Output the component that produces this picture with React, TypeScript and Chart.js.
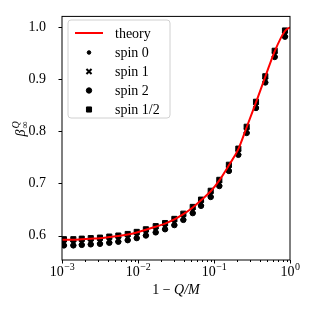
import React, { useEffect, useRef } from "react";
import { Chart, registerables } from "chart.js";

Chart.register(...registerables);

// sample positions (1 - Q/M)
const xValues = [
  0.00106, 0.00141, 0.00182, 0.00239, 0.00316, 0.00419, 0.00551, 0.00732, 0.00962,
  0.0127, 0.0171, 0.0227, 0.0301, 0.0395, 0.0525, 0.0675, 0.0905, 0.1175, 0.157,
  0.209, 0.269, 0.357, 0.473, 0.629, 0.859,
];

const theoryX = [
  0.001, 0.00106, 0.00141, 0.00182, 0.00239, 0.00316, 0.00419, 0.00551, 0.00732, 0.00962,
  0.0127, 0.0171, 0.0227, 0.0301, 0.0395, 0.0525, 0.0675, 0.0905, 0.1175, 0.157,
  0.209, 0.269, 0.357, 0.473, 0.629, 0.859, 1.0,
];
const theoryY = [
  0.592, 0.592, 0.592, 0.593, 0.594, 0.595, 0.597, 0.599, 0.602, 0.606,
  0.611, 0.617, 0.623, 0.631, 0.641, 0.654, 0.668, 0.685, 0.706, 0.735,
  0.766, 0.808, 0.856, 0.905, 0.954, 0.993, 1.0,
];

const spinHalf = [
  0.593, 0.593, 0.594, 0.595, 0.596, 0.598, 0.600, 0.603, 0.607, 0.612, 0.618, 0.624,
  0.632, 0.642, 0.655, 0.669, 0.686, 0.707, 0.736, 0.767, 0.809, 0.857, 0.906, 0.955, 0.994,
];
const spin0 = [
  0.589, 0.589, 0.590, 0.591, 0.592, 0.594, 0.596, 0.599, 0.603, 0.608, 0.614, 0.620,
  0.628, 0.638, 0.651, 0.665, 0.682, 0.703, 0.732, 0.763, 0.805, 0.853, 0.902, 0.951, 0.990,
];
const spin1 = [
  0.585, 0.585, 0.586, 0.587, 0.588, 0.590, 0.592, 0.595, 0.599, 0.604, 0.610, 0.616,
  0.624, 0.634, 0.647, 0.661, 0.678, 0.699, 0.728, 0.759, 0.801, 0.849, 0.898, 0.947, 0.986,
];
const spin2 = [
  0.581, 0.581, 0.582, 0.583, 0.584, 0.586, 0.588, 0.591, 0.595, 0.600, 0.606, 0.612,
  0.620, 0.630, 0.643, 0.657, 0.674, 0.695, 0.724, 0.755, 0.797, 0.845, 0.894, 0.943, 0.982,
];

const yTicks = [0.6, 0.7, 0.8, 0.9, 1.0];
const xTicks = [0.001, 0.01, 0.1, 1];
const xTickExp = ["\u22123", "\u22122", "\u22121", "0"];
const legendLabels = ["theory", "spin 0", "spin 1", "spin 2", "spin 1/2"];

const FONT = '"Liberation Serif", "Times New Roman", serif';

type MarkerSpec = { style: string; radius: number; border: number };
const markers: MarkerSpec[] = [
  { style: "circle", radius: 1.8, border: 1 }, // spin 0
  { style: "crossRot", radius: 3.6, border: 2 }, // spin 1
  { style: "circle", radius: 2.7, border: 1 }, // spin 2
  { style: "rect", radius: 3.6, border: 1 }, // spin 1/2
];

const decorPlugin = {
  id: "decor",
  afterDraw(chart: any) {
    const ctx: CanvasRenderingContext2D = chart.ctx;
    const { left, right, top, bottom } = chart.chartArea;
    const xs = chart.scales.x;
    const ys = chart.scales.y;
    ctx.save();

    // frame
    ctx.strokeStyle = "#000";
    ctx.lineWidth = 1;
    ctx.strokeRect(left, top, right - left, bottom - top);

    // y ticks
    ctx.beginPath();
    for (const v of yTicks) {
      const p = Math.round(ys.getPixelForValue(v)) + 0.5;
      ctx.moveTo(left - 3.5, p);
      ctx.lineTo(left, p);
    }
    // x ticks, major and minor
    for (let e = -3; e <= 0; e++) {
      for (let m = 1; m <= 9; m++) {
        const v = m * Math.pow(10, e);
        if (v > 1.0000001) break;
        const p = Math.round(xs.getPixelForValue(v)) + 0.5;
        const len = m === 1 ? 3.5 : 2;
        ctx.moveTo(p, bottom);
        ctx.lineTo(p, bottom + len);
      }
    }
    ctx.stroke();

    // x tick labels: 10^k
    ctx.fillStyle = "#000";
    ctx.textBaseline = "alphabetic";
    ctx.textAlign = "left";
    xTicks.forEach((v, i) => {
      const p = xs.getPixelForValue(v);
      ctx.font = `14px ${FONT}`;
      const w10 = ctx.measureText("10").width;
      ctx.font = `10px ${FONT}`;
      const wExp = ctx.measureText(xTickExp[i]).width;
      const start = p - (w10 + wExp) / 2;
      ctx.font = `14px ${FONT}`;
      ctx.fillText("10", start, 276);
      ctx.font = `10px ${FONT}`;
      ctx.fillText(xTickExp[i], start + w10 + 0.5, 269.5);
    });

    // x title: 1 − Q/M
    {
      ctx.font = `14px ${FONT}`;
      const a = "1 \u2212 ";
      const wa = ctx.measureText(a).width;
      ctx.font = `italic 14px ${FONT}`;
      const b = "Q/M";
      const wb = ctx.measureText(b).width;
      const cx = (left + right) / 2;
      const sx = cx - (wa + wb) / 2;
      ctx.font = `14px ${FONT}`;
      ctx.fillText(a, sx, 294);
      ctx.font = `italic 14px ${FONT}`;
      ctx.fillText(b, sx + wa, 294);
    }

    // y title: beta^Q_inf
    {
      ctx.save();
      ctx.translate(25, 129);
      ctx.rotate(-Math.PI / 2);
      ctx.font = `italic 14px ${FONT}`;
      const wb = ctx.measureText("\u03b2").width;
      ctx.font = `italic 10px ${FONT}`;
      const wq = ctx.measureText("Q").width;
      ctx.font = `10px ${FONT}`;
      const wi = ctx.measureText("\u221e").width;
      const total = wb + Math.max(wq, wi) + 1;
      const sx = -total / 2;
      ctx.font = `italic 14px ${FONT}`;
      ctx.fillText("\u03b2", sx, 0);
      ctx.font = `italic 10px ${FONT}`;
      ctx.fillText("Q", sx + wb + 1, -6);
      ctx.font = `10px ${FONT}`;
      ctx.fillText("\u221e", sx + wb + 1, 3);
      ctx.restore();
    }

    // legend
    {
      const bx = 68, by = 20, bw = 102, bh = 98, r = 3;
      ctx.beginPath();
      ctx.moveTo(bx + r, by);
      ctx.lineTo(bx + bw - r, by);
      ctx.arcTo(bx + bw, by, bx + bw, by + r, r);
      ctx.lineTo(bx + bw, by + bh - r);
      ctx.arcTo(bx + bw, by + bh, bx + bw - r, by + bh, r);
      ctx.lineTo(bx + r, by + bh);
      ctx.arcTo(bx, by + bh, bx, by + bh - r, r);
      ctx.lineTo(bx, by + r);
      ctx.arcTo(bx, by, bx + r, by, r);
      ctx.closePath();
      ctx.fillStyle = "rgba(255,255,255,0.8)";
      ctx.fill();
      ctx.strokeStyle = "#d0d0d0";
      ctx.lineWidth = 1;
      ctx.stroke();

      const rowY = [33, 52.5, 71.5, 90.5, 109.5];
      ctx.font = `14px ${FONT}`;
      ctx.textBaseline = "middle";
      ctx.textAlign = "left";
      legendLabels.forEach((label, i) => {
        const y = rowY[i];
        if (i === 0) {
          ctx.strokeStyle = "#ff0000";
          ctx.lineWidth = 2;
          ctx.beginPath();
          ctx.moveTo(75, y);
          ctx.lineTo(103, y);
          ctx.stroke();
        } else {
          const m = markers[i - 1];
          ctx.fillStyle = "#000";
          ctx.strokeStyle = "#000";
          ctx.lineWidth = m.border;
          (Chart as any).helpers
            ? null
            : null;
          drawMarker(ctx, m, 89, y);
        }
        ctx.fillStyle = "#000";
        ctx.fillText(label, 115, y + 1);
      });
    }

    ctx.restore();
  },
};

function drawMarker(ctx: CanvasRenderingContext2D, m: MarkerSpec, x: number, y: number) {
  ctx.beginPath();
  if (m.style === "circle") {
    ctx.arc(x, y, m.radius, 0, Math.PI * 2);
    ctx.fill();
    ctx.stroke();
  } else if (m.style === "rect") {
    const s = Math.SQRT1_2 * m.radius;
    ctx.rect(x - s, y - s, 2 * s, 2 * s);
    ctx.fill();
    ctx.stroke();
  } else {
    const s = Math.SQRT1_2 * m.radius;
    ctx.moveTo(x - s, y - s);
    ctx.lineTo(x + s, y + s);
    ctx.moveTo(x - s, y + s);
    ctx.lineTo(x + s, y - s);
    ctx.stroke();
  }
}

export default function App() {
  const ref = useRef<HTMLCanvasElement | null>(null);

  useEffect(() => {
    document.body.style.margin = "0";
    const canvas = ref.current;
    if (!canvas) return;

    const pts = (ys: number[]) => xValues.map((x, i) => ({ x, y: ys[i] }));
    const series = [spin0, spin1, spin2, spinHalf];

    const chart = new Chart(canvas, {
      type: "scatter",
      data: {
        datasets: [
          {
            label: legendLabels[0],
            type: "line",
            data: theoryX.map((x, i) => ({ x, y: theoryY[i] })),
            borderColor: "#ff0000",
            borderWidth: 2,
            pointRadius: 0,
            showLine: true,
            fill: false,
            cubicInterpolationMode: "monotone",
            order: 0,
          } as any,
          ...series.map((s, i) => ({
            label: legendLabels[i + 1],
            data: pts(s),
            pointStyle: markers[i].style,
            pointRadius: markers[i].radius,
            pointBorderWidth: markers[i].border,
            pointBackgroundColor: "#000",
            pointBorderColor: "#000",
            showLine: false,
            order: 1,
          })),
        ],
      },
      options: {
        responsive: false,
        animation: false,
        devicePixelRatio: 1,
        layout: { padding: { top: 14, right: 24, left: 0, bottom: 0 } },
        plugins: {
          legend: { display: false },
          tooltip: { enabled: false },
        },
        scales: {
          x: {
            type: "logarithmic",
            min: 0.001,
            max: 1,
            grid: { display: false },
            border: { display: false },
            ticks: { display: false },
            afterBuildTicks: (s: any) => {
              s.ticks = xTicks.map((v) => ({ value: v, major: true }));
            },
            afterFit: (s: any) => {
              s.height = 54;
            },
          },
          y: {
            type: "linear",
            min: 0.553,
            max: 1.021,
            grid: { display: false },
            border: { display: false },
            ticks: {
              color: "#000",
              padding: 8,
              font: { family: FONT, size: 14 },
              callback: (v: any) => Number(v).toFixed(1),
            },
            afterBuildTicks: (s: any) => {
              s.ticks = yTicks.map((v) => ({ value: v }));
            },
            afterFit: (s: any) => {
              s.width = 62;
            },
          },
        },
      } as any,
      plugins: [decorPlugin],
    });

    return () => chart.destroy();
  }, []);

  return <canvas ref={ref} width={314} height={314} style={{ display: "block" }} />;
}
